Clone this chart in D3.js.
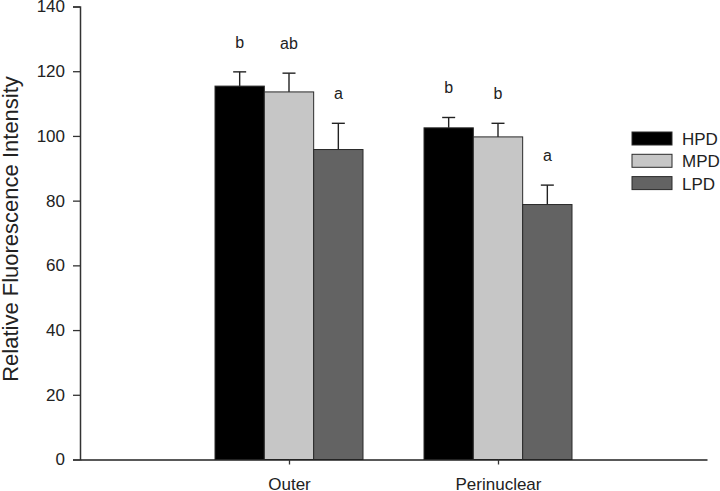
<!DOCTYPE html>
<html>
<head>
<meta charset="utf-8">
<script src="https://cdn.jsdelivr.net/npm/d3@7"></script>
<style>
  body { margin: 0; background: #fff; }
  text { font-family: "Liberation Sans", Arial, sans-serif; fill: #222; }
</style>
</head>
<body>
<script>
// DATA
var categories = ["Outer", "Perinuclear"];
var series = ["HPD", "MPD", "LPD"];
var colors = ["#000000", "#c6c6c6", "#636363"];
var means = [[115.4, 113.6, 95.8], [102.5, 99.7, 78.8]];
var errors = [[4.4, 5.8, 8.1], [3.2, 4.2, 6.0]];
var letters = [["b", "ab", "a"], ["b", "b", "a"]];
var yTicks = [0, 20, 40, 60, 80, 100, 120, 140];

var width = 720, height = 491;
var svg = d3.select("body").append("svg")
    .attr("width", width)
    .attr("height", height);

var y = d3.scaleLinear().domain([0, 140]).range([459.5, 6.5]);
var x = d3.scalePoint().domain(categories).range([80, 707]).padding(1);
var xs = d3.scaleBand().domain(series).range([-74, 74]);

// bars
var groups = svg.selectAll(".grp")
    .data(categories)
    .enter().append("g")
      .attr("class", "grp")
      .attr("transform", function(d) { return "translate(" + x(d) + ",0)"; });

groups.each(function(cat, ci) {
  var g = d3.select(this);
  series.forEach(function(s, si) {
    var m = means[ci][si], e = errors[ci][si];
    var cx = xs(s) + xs.bandwidth() / 2;
    // error bar (upper only)
    g.append("line")
      .attr("x1", cx).attr("x2", cx)
      .attr("y1", y(m)).attr("y2", y(m + e))
      .attr("stroke", "#222").attr("stroke-width", 1.4);
    g.append("line")
      .attr("x1", cx - 6.5).attr("x2", cx + 6.5)
      .attr("y1", y(m + e)).attr("y2", y(m + e))
      .attr("stroke", "#222").attr("stroke-width", 1.4);
    g.append("rect")
      .attr("x", xs(s))
      .attr("y", y(m))
      .attr("width", xs.bandwidth())
      .attr("height", y(0) - y(m))
      .attr("fill", colors[si])
      .attr("stroke", "#2a2a2a")
      .attr("stroke-width", 1);
    g.append("text")
      .attr("x", cx)
      .attr("y", y(m + e) - 24)
      .attr("text-anchor", "middle")
      .style("font-size", "16px")
      .text(letters[ci][si]);
  });
});

// axes
var yAxis = d3.axisLeft(y).tickValues(yTicks).tickSize(7).tickPadding(8);
var gy = svg.append("g")
    .attr("transform", "translate(80,0)")
    .call(yAxis);
gy.select(".domain").attr("stroke", "#333").attr("stroke-width", 1.5);
gy.selectAll(".tick line").attr("stroke", "#333").attr("stroke-width", 1.3);
gy.selectAll(".tick text").style("font-size", "17px").attr("fill", "#222");

var xAxis = d3.axisBottom(x).tickSize(5).tickPadding(13).tickSizeOuter(0);
var gx = svg.append("g")
    .attr("transform", "translate(0,459.5)")
    .call(xAxis);
gx.select(".domain").attr("stroke", "#222").attr("stroke-width", 1.5);
gx.selectAll(".tick line").attr("stroke", "#333").attr("stroke-width", 1.3);
gx.selectAll(".tick text").style("font-size", "17px").attr("fill", "#222");

// y label
svg.append("text")
  .attr("transform", "translate(18,229) rotate(-90)")
  .attr("text-anchor", "middle")
  .style("font-size", "22px")
  .text("Relative Fluorescence Intensity");

// legend
var legend = svg.selectAll(".leg")
    .data(series)
    .enter().append("g")
      .attr("class", "leg")
      .attr("transform", function(d, i) { return "translate(632," + (132 + i * 22.3) + ")"; });
legend.append("rect")
  .attr("width", 40).attr("height", 13)
  .attr("fill", function(d, i) { return colors[i]; })
  .attr("stroke", "#2a2a2a").attr("stroke-width", 1);
legend.append("text")
  .attr("x", 50).attr("y", 13)
  .style("font-size", "17px")
  .text(function(d) { return d; });
</script>
</body>
</html>
